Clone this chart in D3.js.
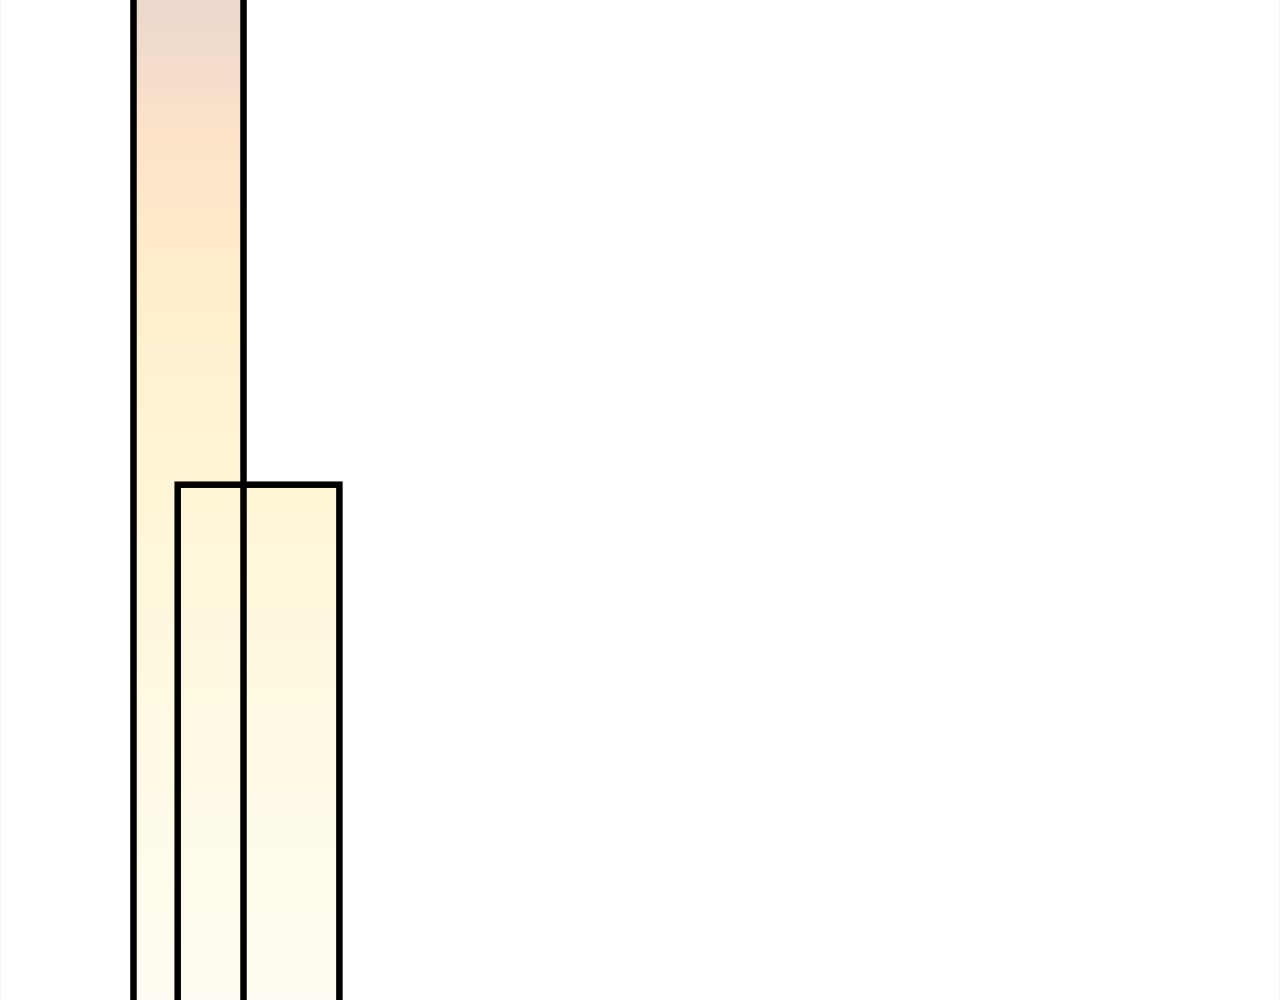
<!DOCTYPE html>
<html>
    <head>
        <script src="https://d3js.org/d3.v7.js"></script>
        <style>
            body{
                margin: 0;
                background: #fff;
            }
            .bar-outline{
                fill: none;
                stroke: #000;
                stroke-width: 6.5;
            }
        </style>
    </head>
    <body>
        <div class="graph">
            <script>
                const w = 1280
                const h = 1000

                // bars: start / end along x, height along y
                const categories = ['A', 'B']
                const starts = [13.35, 17.77]
                const ends = [24.35, 33.94]
                const values = [106, 52.48]

                // shared vertical fill, top to bottom
                const stopOffsets = [0, 0.08, 0.14, 0.26, 0.4, 0.55, 0.75, 1]
                const stopColours = ['#ebd8cc', '#f5ddcb', '#fde4c9', '#ffecca', '#fff3d2', '#fff7da', '#fffae5', '#fffdf3']

                const data = categories.map((c, i) => ({name: c, start: starts[i], end: ends[i], value: values[i]}))

                const xScale = d3.scaleLinear()
                                    .domain([0, 128])
                                    .range([0, w])

                const yScale = d3.scaleLinear()
                                    .domain([0, 100])
                                    .range([1020, 0])

                const svg = d3.select('.graph')
                        .append('svg')
                        .attr('width', w)
                        .attr('height', h)
                        .style('display', 'block')

                const grad = svg.append('defs')
                                .append('linearGradient')
                                .attr('id', 'barFill')
                                .attr('gradientUnits', 'userSpaceOnUse')
                                .attr('x1', 0).attr('y1', 0)
                                .attr('x2', 0).attr('y2', h)

                grad.selectAll('stop')
                    .data(stopOffsets)
                    .enter()
                    .append('stop')
                    .attr('offset', d => d)
                    .attr('stop-color', (d, i) => stopColours[i])

                // faint page edges, left and right
                svg.append('g')
                    .selectAll('line')
                    .data([0.5, w - 0.5])
                    .enter()
                    .append('line')
                    .attr('x1', d => d).attr('x2', d => d)
                    .attr('y1', 0).attr('y2', h)
                    .attr('stroke', '#f3f7fb')

                // fills first, outlines on top so every edge shows
                svg.append('g')
                    .selectAll('rect')
                    .data(data)
                    .enter()
                    .append('rect')
                    .attr('x', d => xScale(d.start))
                    .attr('y', d => yScale(d.value))
                    .attr('width', d => xScale(d.end) - xScale(d.start))
                    .attr('height', d => yScale(0) - yScale(d.value))
                    .attr('fill', 'url(#barFill)')

                svg.append('g')
                    .selectAll('rect')
                    .data(data)
                    .enter()
                    .append('rect')
                    .attr('class', 'bar-outline')
                    .attr('x', d => xScale(d.start))
                    .attr('y', d => yScale(d.value))
                    .attr('width', d => xScale(d.end) - xScale(d.start))
                    .attr('height', d => yScale(0) - yScale(d.value))
            </script>
        </div>
    </body>
</html>
